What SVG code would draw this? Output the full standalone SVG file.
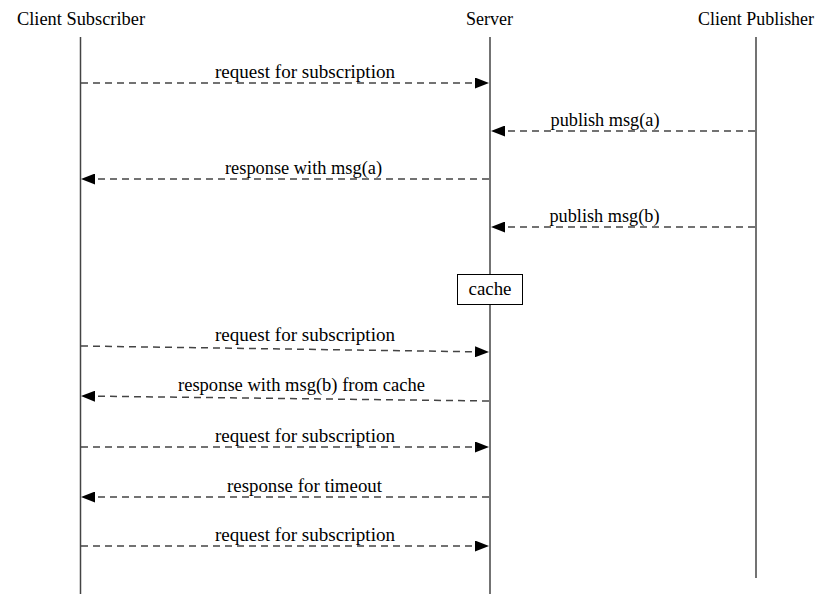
<svg xmlns="http://www.w3.org/2000/svg" width="831" height="599" viewBox="0 0 831 599">
<defs>
<style>
.life{stroke:#444;stroke-width:1.5;fill:none}
.msg{stroke:#444;stroke-width:1.5;stroke-dasharray:7 5;fill:none}
.box{fill:#fff;stroke:#000;stroke-width:1}
</style>
<marker id="ah" viewBox="0 0 14 11" refX="14" refY="5.5" markerWidth="14" markerHeight="11" markerUnits="userSpaceOnUse" orient="auto">
<path d="M0,0 L14,5.5 L0,11 Z" fill="#000"/>
</marker>
</defs>
<rect width="831" height="599" fill="#fff"/>
<g font-family="Liberation Serif" font-size="18" text-anchor="middle" fill="#000">
<g id="subscriber">
<text x="81" y="25" textLength="128" lengthAdjust="spacingAndGlyphs">Client Subscriber</text>
<line class="life" x1="80.5" y1="37" x2="80.5" y2="594"/>
</g>
<g id="server">
<text x="489.5" y="25" textLength="47" lengthAdjust="spacingAndGlyphs">Server</text>
<line class="life" x1="490" y1="37" x2="490" y2="594"/>
</g>
<g id="publisher">
<text x="756" y="25" textLength="116" lengthAdjust="spacingAndGlyphs">Client Publisher</text>
<line class="life" x1="756" y1="37" x2="756" y2="578"/>
</g>
<g id="cache">
<rect class="box" x="457.5" y="274.5" width="65" height="30"/>
<text x="490" y="295" textLength="43" lengthAdjust="spacingAndGlyphs">cache</text>
</g>
<g id="connectors">
<line class="msg" x1="81" y1="83" x2="489" y2="83" marker-end="url(#ah)"/>
<text x="305" y="78" textLength="180" lengthAdjust="spacingAndGlyphs">request for subscription</text>
<line class="msg" x1="755" y1="131" x2="491" y2="131" marker-end="url(#ah)"/>
<text x="605" y="126" textLength="109" lengthAdjust="spacingAndGlyphs">publish msg(a)</text>
<line class="msg" x1="489" y1="179" x2="81" y2="179" marker-end="url(#ah)"/>
<text x="303.5" y="174" textLength="157" lengthAdjust="spacingAndGlyphs">response with msg(a)</text>
<line class="msg" x1="755" y1="227" x2="491" y2="227" marker-end="url(#ah)"/>
<text x="604.5" y="222" textLength="110" lengthAdjust="spacingAndGlyphs">publish msg(b)</text>
<line class="msg" x1="81" y1="346" x2="489" y2="352" marker-end="url(#ah)"/>
<text x="305" y="341" textLength="180" lengthAdjust="spacingAndGlyphs">request for subscription</text>
<line class="msg" x1="489" y1="401" x2="81" y2="396" marker-end="url(#ah)"/>
<text x="301.5" y="391" textLength="247" lengthAdjust="spacingAndGlyphs">response with msg(b) from cache</text>
<line class="msg" x1="81" y1="447" x2="489" y2="447" marker-end="url(#ah)"/>
<text x="305" y="442" textLength="180" lengthAdjust="spacingAndGlyphs">request for subscription</text>
<line class="msg" x1="489" y1="497" x2="81" y2="497" marker-end="url(#ah)"/>
<text x="304.5" y="492" textLength="155" lengthAdjust="spacingAndGlyphs">response for timeout</text>
<line class="msg" x1="81" y1="546" x2="489" y2="546" marker-end="url(#ah)"/>
<text x="305" y="541" textLength="180" lengthAdjust="spacingAndGlyphs">request for subscription</text>
</g>
</g>
</svg>
